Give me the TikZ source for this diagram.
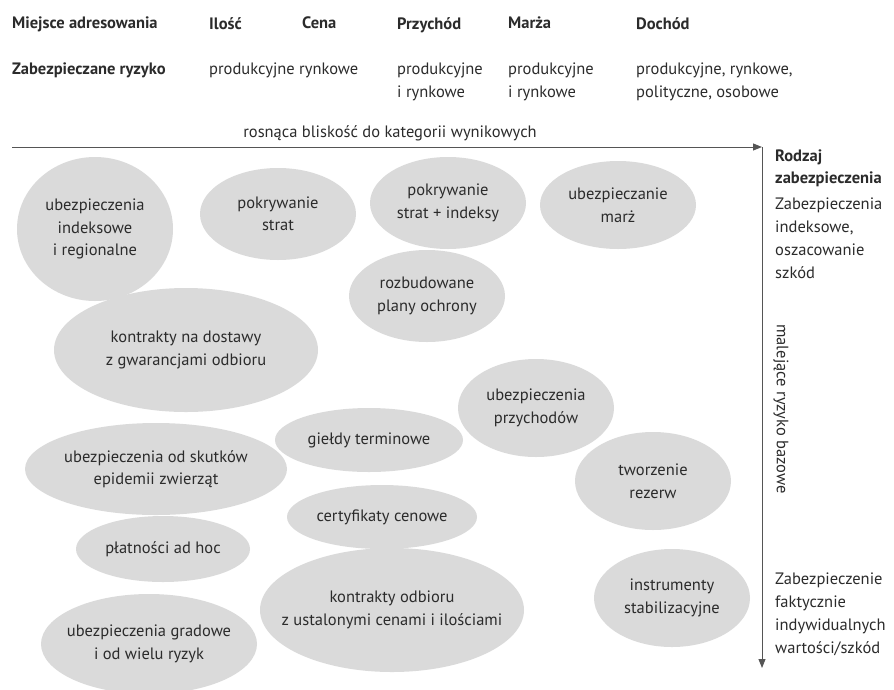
\documentclass[tikz,border=0pt]{standalone}
\usepackage{fontspec}
\setmainfont{PT Sans}
\usetikzlibrary{arrows.meta,shapes.geometric}
\definecolor{ell}{HTML}{DADADA}
\definecolor{txt}{HTML}{2B2B2B}
\definecolor{axc}{HTML}{555555}
\begin{document}
\begin{tikzpicture}[x=1pt,y=-1pt,
  bub/.style={ellipse, fill=ell, draw=none, inner sep=0pt},
  lbl/.style={text=txt, align=center, font=\fontsize{16.5}{22.5}\selectfont, inner sep=0pt},
  hd/.style={text=txt, anchor=north west, align=left, font=\fontsize{16.5}{22}\selectfont\bfseries, inner sep=0pt},
  tx/.style={text=txt, anchor=north west, align=left, font=\fontsize{16.5}{23}\selectfont, inner sep=0pt},
  axis/.style={draw=axc, line width=1pt, -{Triangle[length=9pt,width=7pt]}}]
\useasboundingbox (0,0) rectangle (894,689);
% header
\node[hd] (h1) at (12,17) {Miejsce adresowania};
\node[hd] (h2) at (209,17) {Ilość};
\node[hd] (h3) at (302,17) {Cena};
\node[hd] (h4) at (397,17) {Przychód};
\node[hd] (h5) at (508,17) {Marża};
\node[hd] (h6) at (636,17) {Dochód};
\node[hd] (r1) at (12,63) {Zabezpieczane ryzyko};
\node[tx] (r2) at (209,63) {produkcyjne};
\node[tx] (r3) at (299,63) {rynkowe};
\node[tx] (r4) at (397,63) {produkcyjne\\i rynkowe};
\node[tx] (r5) at (508,63) {produkcyjne\\i rynkowe};
\node[tx] (r6) at (636,63) {produkcyjne, rynkowe,\\polityczne, osobowe};
% axes
\coordinate (hs) at (12,147);
\coordinate (corner) at (762,147);
\coordinate (ve) at (762,668);
\draw[axis] (hs) -- (corner);
\draw[axis] (corner) -- (ve);
\node[lbl, anchor=base] (xl) at (390,137) {rosnąca bliskość do kategorii wynikowych};
\node[hd] (rz) at (775,150) {Rodzaj\\zabezpieczenia};
\node[tx] (rt1) at (775,198) {Zabezpieczenia\\indeksowe,\\oszacowanie\\szkód};
\node[lbl, rotate=-90] (yl) at (781,409) {malejące ryzyko bazowe};
\node[tx] (rt2) at (775,573) {Zabezpieczenie\\faktycznie\\indywidualnych\\wartości/szkód};
% bubbles
\node[bub, minimum width=156pt, minimum height=144pt, label={[lbl]center:ubezpieczenia\\indeksowe\\i regionalne}] (e1) at (95,229) {};
\node[bub, minimum width=156pt, minimum height=92pt, label={[lbl]center:pokrywanie\\strat}] (e2) at (278,214) {};
\node[bub, minimum width=156pt, minimum height=92pt, label={[lbl]center:pokrywanie\\strat + indeksy}] (e3) at (448,203) {};
\node[bub, minimum width=156pt, minimum height=88pt, label={[lbl]center:ubezpieczanie\\marż}] (e4) at (618,205) {};
\node[bub, minimum width=156pt, minimum height=92pt, label={[lbl]center:rozbudowane\\plany ochrony}] (e5) at (427,296) {};
\node[bub, minimum width=264pt, minimum height=124pt, label={[lbl]center:kontrakty na dostawy\\z gwarancjami odbioru}] (e6) at (186,350) {};
\node[bub, minimum width=262pt, minimum height=92pt, label={[lbl]center:ubezpieczenia od skutków\\epidemii zwierząt}] (e7) at (156,469) {};
\node[bub, minimum width=188pt, minimum height=64pt, label={[lbl]center:giełdy terminowe}] (e8) at (369,440) {};
\node[bub, minimum width=190pt, minimum height=64pt, label={[lbl]center:certyfikaty cenowe}] (e9) at (382,517) {};
\node[bub, minimum width=174pt, minimum height=66pt, label={[lbl]center:płatności ad hoc}] (e10) at (163,549) {};
\node[bub, minimum width=264pt, minimum height=124pt, label={[lbl]center:kontrakty odbioru\\z ustalonymi cenami i ilościami}] (e11) at (392,610) {};
\node[bub, minimum width=216pt, minimum height=100pt, label={[lbl]center:ubezpieczenia gradowe\\i od wielu ryzyk}] (e12) at (149,644) {};
\node[bub, minimum width=156pt, minimum height=98pt, label={[lbl]center:ubezpieczenia\\przychodów}] (e13) at (536,408) {};
\node[bub, minimum width=156pt, minimum height=98pt, label={[lbl]center:tworzenie\\rezerw}] (e14) at (653,481) {};
\node[bub, minimum width=156pt, minimum height=98pt, label={[lbl]center:instrumenty\\stabilizacyjne}] (e15) at (672,598) {};
\end{tikzpicture}
\end{document}
